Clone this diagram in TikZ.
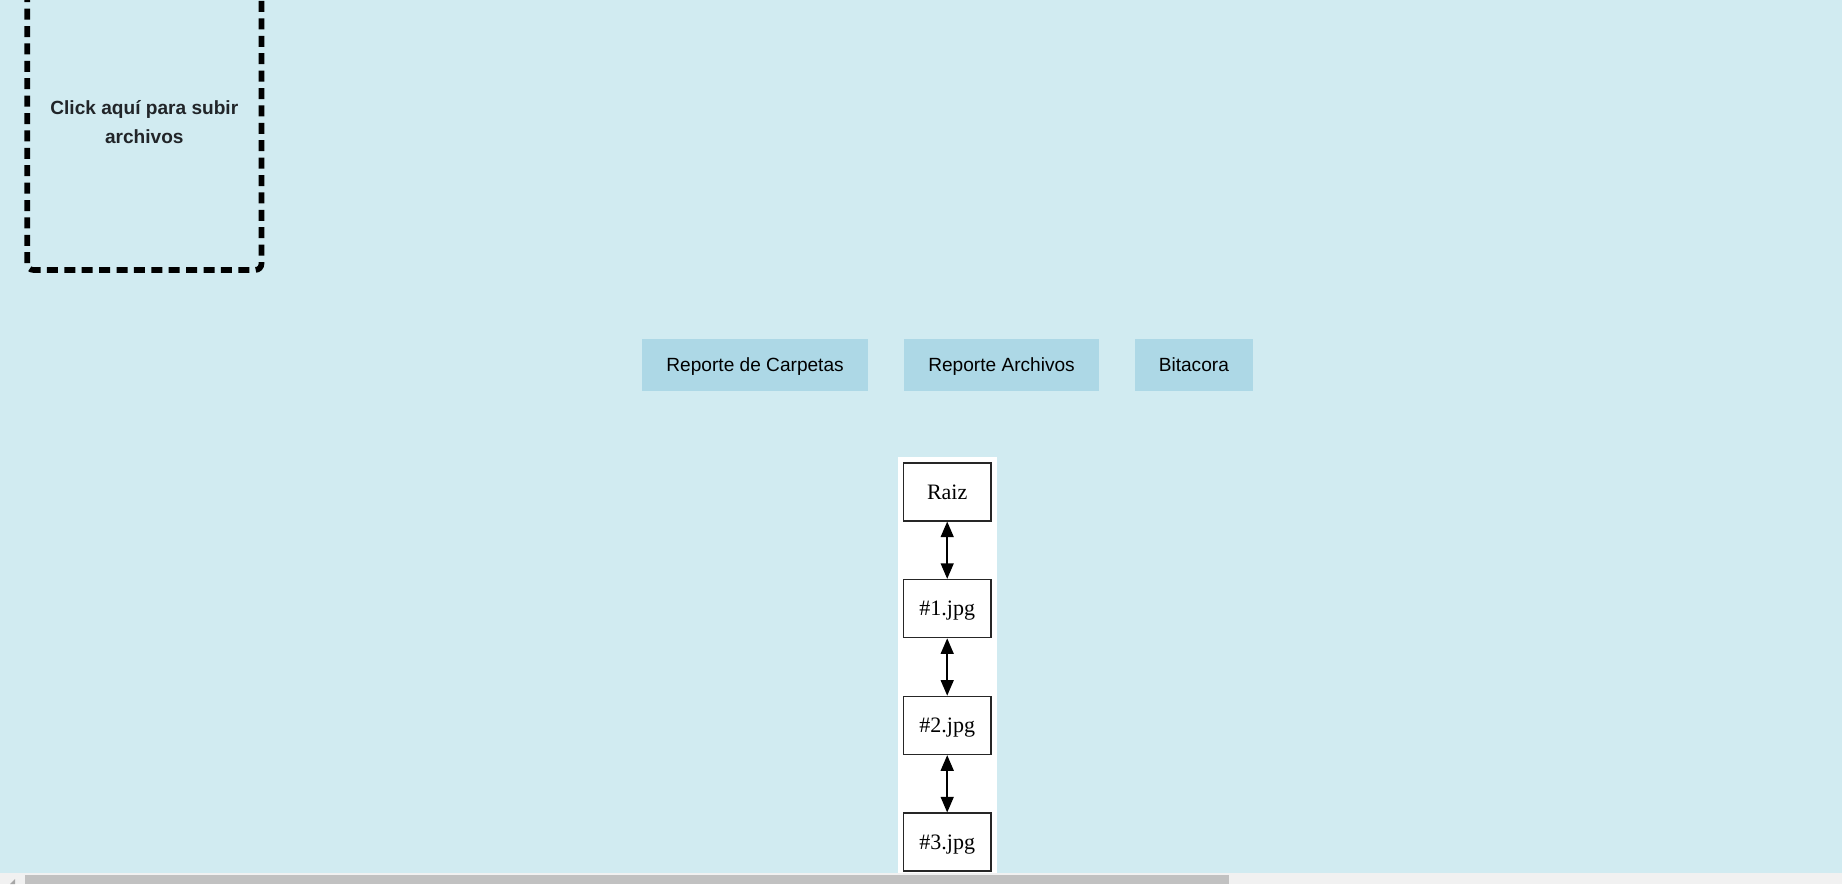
\documentclass[tikz,border=0pt]{standalone}
\usepackage{fontspec}
\setmainfont{Liberation Serif}
\newfontfamily\websans{Liberation Sans}
\usetikzlibrary{positioning,arrows.meta}
\definecolor{pagebg}{RGB}{209,235,241}
\definecolor{btnblue}{RGB}{173,216,230}
\definecolor{inkgray}{RGB}{33,37,41}
\definecolor{trackgray}{RGB}{241,241,241}
\definecolor{thumbgray}{RGB}{193,193,193}
\begin{document}
\begin{tikzpicture}[
        x=0.5pt, y=-0.5pt,
        node distance=18pt,
        >={Triangle[length=7.8pt,width=6.5pt]}
    ]
    \tikzset{
        btnnode/.style = {rectangle, fill=btnblue, inner sep=0pt, outer sep=0pt, minimum height=25.85pt, text height=8pt, text depth=1.2pt, font=\websans\fontsize{9.55pt}{11pt}\selectfont, text=black},
        treenode/.style = {rectangle, draw=black!85, line width=0.75pt, fill=white, minimum width=43.85pt, minimum height=29pt, inner sep=0pt, text height=8pt, text depth=0.8pt, font=\fontsize{11pt}{13pt}\selectfont},
        uploadbox/.style = {rectangle, draw=black, line width=2.85pt, rounded corners=3pt, dash pattern=on 5.5pt off 3.2pt, minimum width=117.15pt, minimum height=148.3pt, align=center, text=inkgray, font=\websans\bfseries\fontsize{9.55pt}{14.5pt}\selectfont},
    }
    \useasboundingbox (0,0) rectangle (1842,884);
    \fill[pagebg] (0,0) rectangle (1842,884);
    % upload area
    \node[uploadbox] (upload) at (144.3,121.6) {Click aquí para subir\\archivos};
    % report buttons
    \node[btnnode, minimum width=113.1pt] (carpetas) at (755.1,365) {Reporte de Carpetas};
    \node[btnnode, minimum width=97.35pt, right=of carpetas] (archivos) {Reporte Archivos};
    \node[btnnode, minimum width=58.95pt, right=of archivos] (bitacora) {Bitacora};
    % graph panel
    \fill[white] (898.3,456.7) rectangle (996.7,884);
    \node[treenode] (raiz) at (947.2,491.8) {Raiz};
    \node[treenode, below=28.65pt of raiz] (img1) {\#1.jpg};
    \node[treenode, below=28.65pt of img1] (img2) {\#2.jpg};
    \node[treenode, below=28.65pt of img2] (img3) {\#3.jpg};
    \draw[<->, line width=0.75pt] (raiz) -- (img1);
    \draw[<->, line width=0.75pt] (img1) -- (img2);
    \draw[<->, line width=0.75pt] (img2) -- (img3);
    % scrollbar
    \fill[trackgray] (0,872.7) rectangle (1842,884);
    \fill[thumbgray] (25,874.7) rectangle (1229,884);
    \fill[black!35] (10,884) -- (15,879) -- (15,884) -- cycle;
\end{tikzpicture}
\end{document}
